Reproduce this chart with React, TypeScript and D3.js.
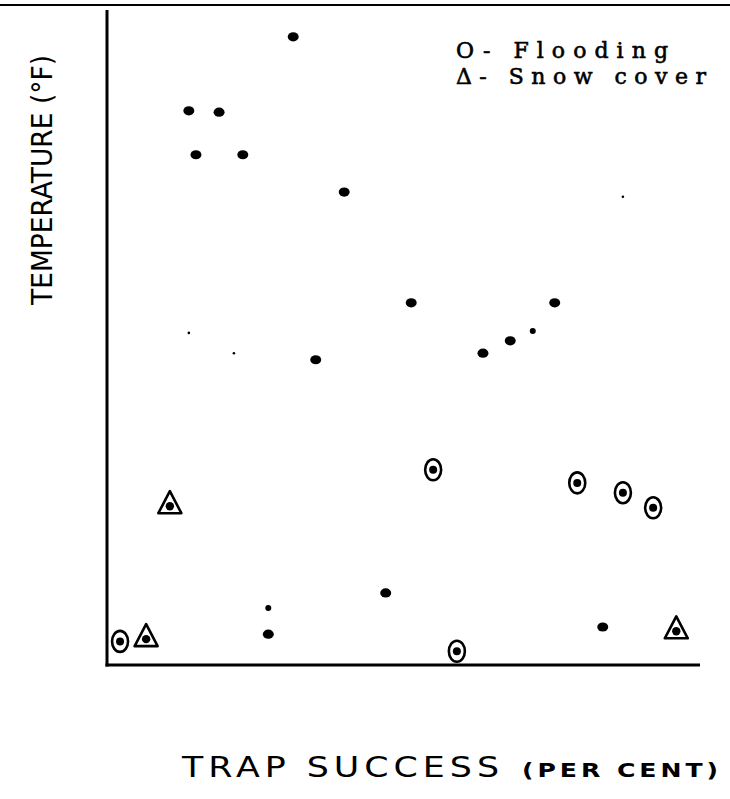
import React from 'react';
import * as d3 from 'd3';

// trap success (x) and temperature (y) on a 0-100 relative scale
const plainX = [31.4, 13.8, 18.9, 15.0, 22.9, 40.0, 51.3, 75.5, 35.2, 63.4, 68.0, 47.0, 27.2, 83.6];
const plainY = [95.9, 84.6, 84.4, 77.9, 77.9, 72.2, 55.3, 55.3, 46.6, 47.6, 49.5, 11.0, 4.7, 5.8];

const smallX = [71.8, 27.2];
const smallY = [51.0, 8.7];

const speckX = [13.8, 21.4, 87.0];
const speckY = [50.7, 47.6, 71.5];

const floodX = [2.2, 55.0, 79.3, 87.0, 92.1, 59.0];
const floodY = [3.6, 29.8, 27.8, 26.3, 24.0, 2.1];

const snowX = [10.6, 6.6, 96.0];
const snowY = [24.4, 4.1, 5.3];

const legendLabels = ['O- Flooding', 'Δ- Snow cover'];
const xTitle = 'TRAP SUCCESS';
const xUnit = '(PER CENT)';
const yTitle = 'TEMPERATURE (°F)';

const W = 730;
const H = 799;

export default function App() {
  const x = d3.scaleLinear().domain([0, 100]).range([107, 700]);
  const y = d3.scaleLinear().domain([0, 100]).range([665, 10]);

  const tri = (cx: number, cy: number) => {
    const p = d3.path();
    p.moveTo(cx, cy - 14);
    p.lineTo(cx + 11.5, cy + 8);
    p.lineTo(cx - 11.5, cy + 8);
    p.closePath();
    return p.toString();
  };

  return (
    <svg width={W} height={H} style={{ position: 'absolute', left: 0, top: 0, background: '#fff' }}>
      {/* scan edge line */}
      <line x1={0} x2={W} y1={5} y2={5} stroke="#000" strokeWidth={2} />

      {/* axes */}
      <line x1={x(0)} x2={x(0)} y1={y(100)} y2={y(0) + 1.5} stroke="#000" strokeWidth={3} />
      <line x1={x(0) - 1.5} x2={x(100)} y1={y(0)} y2={y(0)} stroke="#000" strokeWidth={3} />

      {plainX.map((v, i) => (
        <ellipse key={'p' + i} cx={x(v)} cy={y(plainY[i])} rx={5.5} ry={4.6} fill="#000" />
      ))}
      {smallX.map((v, i) => (
        <circle key={'s' + i} cx={x(v)} cy={y(smallY[i])} r={3} fill="#000" />
      ))}
      {speckX.map((v, i) => (
        <circle key={'k' + i} cx={x(v)} cy={y(speckY[i])} r={1.3} fill="#000" />
      ))}

      {floodX.map((v, i) => (
        <g key={'f' + i}>
          <ellipse cx={x(v)} cy={y(floodY[i])} rx={8} ry={10.5} fill="none" stroke="#000" strokeWidth={2.6} />
          <circle cx={x(v)} cy={y(floodY[i])} r={4} fill="#000" />
        </g>
      ))}

      {snowX.map((v, i) => (
        <g key={'t' + i}>
          <path d={tri(x(v), y(snowY[i]))} fill="none" stroke="#000" strokeWidth={2.6} strokeLinejoin="round" />
          <circle cx={x(v)} cy={y(snowY[i]) + 1} r={4.2} fill="#000" />
        </g>
      ))}

      {/* legend */}
      {legendLabels.map((t, i) => (
        <text
          key={t}
          x={456}
          y={58 + i * 26}
          fontFamily="DejaVu Serif, Liberation Serif, serif"
          fontSize={22}
          stroke="#000"
          strokeWidth={0.6}
          textLength={i === 0 ? 212 : 250}
          lengthAdjust="spacing"
          fill="#000"
        >
          {t}
        </text>
      ))}

      {/* y title */}
      <text
        transform="translate(52,180) rotate(-90)"
        textAnchor="middle"
        fontFamily="DejaVu Sans, sans-serif"
        fontSize={29}
        textLength={250}
        lengthAdjust="spacingAndGlyphs"
        fill="#000"
      >
        {yTitle}
      </text>

      {/* x title */}
      <text
        x={182}
        y={777}
        fontFamily="DejaVu Sans, sans-serif"
        fontSize={28}
        letterSpacing={4}
        textLength={322}
        lengthAdjust="spacingAndGlyphs"
        fill="#000"
      >
        {xTitle}
      </text>
      <text
        x={522}
        y={777}
        fontFamily="DejaVu Sans, sans-serif"
        fontWeight="bold"
        fontSize={19}
        letterSpacing={3}
        textLength={200}
        lengthAdjust="spacingAndGlyphs"
        fill="#000"
      >
        {xUnit}
      </text>
    </svg>
  );
}
